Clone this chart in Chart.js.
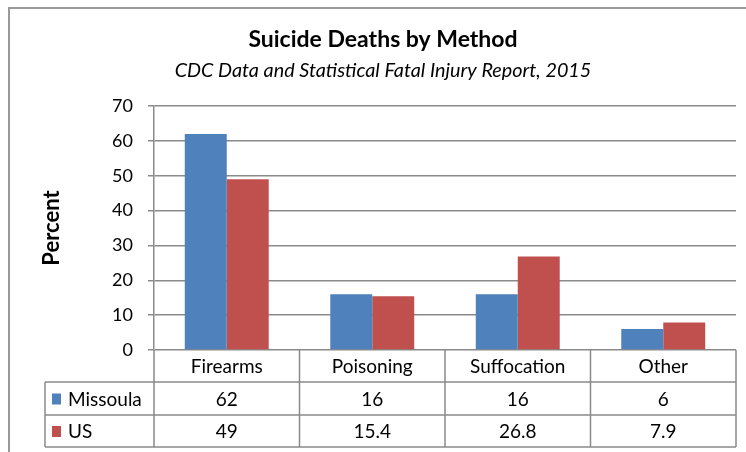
<!DOCTYPE html>
<html>
<head>
<meta charset="utf-8">
<script src="https://cdn.jsdelivr.net/npm/chart.js@4"></script>
<style>
  body { margin: 0; background: #fff; }
</style>
</head>
<body>
<canvas id="chart" width="746" height="452"></canvas>
<script>
const categories = ['Firearms', 'Poisoning', 'Suffocation', 'Other'];
const missoula = [62, 16, 16, 6];
const us = [49, 15.4, 26.8, 7.9];
const yMin = 0, yMax = 70, yStep = 10;

const lineColor = '#8a8a8a';
Chart.defaults.font.family = 'Lato';
Chart.defaults.color = '#000';

// outer frame of the chart object (right/bottom run off the picture)
const frame = {
  id: 'frame',
  beforeDraw(chart) {
    const ctx = chart.ctx;
    ctx.save();
    ctx.strokeStyle = '#999';
    ctx.lineWidth = 2;
    ctx.strokeRect(9, 8, 800, 500);
    ctx.restore();
  }
};

// excel style data table under the plot
const dataTable = {
  id: 'dataTable',
  afterDraw(chart) {
    const {ctx, chartArea: a, scales: {x}} = chart;
    const half = (a.right - a.left) / categories.length / 2;
    const rows = [a.bottom, a.bottom + 32, a.bottom + 65, a.bottom + 97];
    const tableLeft = 45;
    ctx.save();
    ctx.strokeStyle = lineColor;
    ctx.lineWidth = 1.5;
    ctx.beginPath();
    for (let r = 1; r < rows.length; r++) {
      ctx.moveTo(tableLeft, rows[r]);
      ctx.lineTo(a.right, rows[r]);
    }
    ctx.moveTo(tableLeft, rows[1]);
    ctx.lineTo(tableLeft, rows[3]);
    for (let i = 0; i <= categories.length; i++) {
      const px = i < categories.length ? x.getPixelForValue(i) - half : x.getPixelForValue(i - 1) + half;
      ctx.moveTo(px, rows[0]);
      ctx.lineTo(px, rows[3]);
    }
    ctx.stroke();

    ctx.font = '19px Lato';
    ctx.textBaseline = 'middle';
    ctx.textAlign = 'center';
    ctx.fillStyle = '#000';
    categories.forEach((c, i) => ctx.fillText(c, x.getPixelForValue(i), (rows[0] + rows[1]) / 2 + 1));

    chart.data.datasets.forEach((ds, r) => {
      const cy = (rows[r + 1] + rows[r + 2]) / 2 + 1;
      ctx.textAlign = 'center';
      ctx.fillStyle = '#000';
      ds.data.forEach((v, i) => ctx.fillText(String(v), x.getPixelForValue(i), cy));
      ctx.fillStyle = ds.backgroundColor;
      ctx.fillRect(52, cy - 6, 9, 11);
      ctx.fillStyle = '#000';
      ctx.textAlign = 'left';
      ctx.fillText(ds.label, 68, cy);
    });
    ctx.restore();
  }
};

new Chart(document.getElementById('chart'), {
  type: 'bar',
  data: {
    labels: categories,
    datasets: [
      {label: 'Missoula', data: missoula, backgroundColor: '#4f81bd'},
      {label: 'US', data: us, backgroundColor: '#c0504d'}
    ]
  },
  options: {
    responsive: false,
    animation: false,
    layout: {padding: {left: 30, right: 10, top: 0, bottom: 102}},
    datasets: {bar: {categoryPercentage: 0.577, barPercentage: 1}},
    plugins: {
      legend: {display: false},
      tooltip: {enabled: false},
      title: {
        display: true,
        text: 'Suicide Deaths by Method',
        font: {size: 23, weight: 'bold'},
        padding: {top: 26, bottom: 0}
      },
      subtitle: {
        display: true,
        text: 'CDC Data and Statistical Fatal Injury Report, 2015',
        font: {size: 19.8, style: 'italic'},
        padding: {top: 5.5, bottom: 23.2}
      }
    },
    scales: {
      x: {display: false},
      y: {
        min: yMin,
        max: yMax,
        ticks: {stepSize: yStep, padding: 15, font: {size: 18}},
        grid: {color: lineColor, lineWidth: 1.5, tickLength: 6},
        border: {color: lineColor, width: 1.5},
        title: {
          display: true,
          text: 'Percent',
          font: {size: 22, weight: 'bold'},
          padding: {top: 9}
        },
        afterFit: s => { s.width = 124; }
      }
    }
  },
  plugins: [frame, dataTable]
});
</script>
</body>
</html>
